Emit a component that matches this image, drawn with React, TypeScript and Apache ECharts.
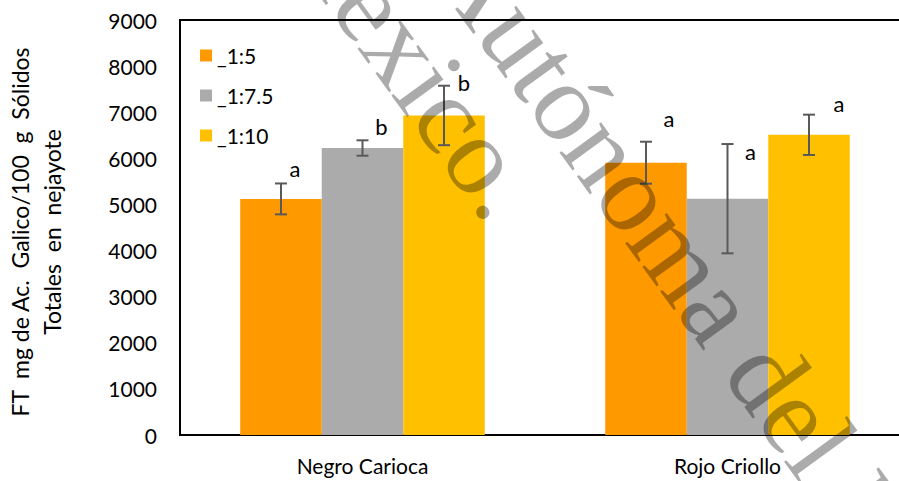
import React, { useEffect, useRef } from "react";
import * as echarts from "echarts";

// Phenolic content by variety and dilution ratio
const categories = ["Negro Carioca", "Rojo Criollo"];
const seriesNames = ["_1:5", "_1:7.5", "_1:10"];
const seriesColors = ["#FF9900", "#ABABAB", "#FFC000"];

const ratio1to5 = [5120, 5905];
const ratio1to7_5 = [6224, 5125];
const ratio1to10 = [6930, 6510];

const sd1to5 = [335, 455];
const sd1to7_5 = [167, 1185];
const sd1to10 = [645, 437];

// Tukey grouping letters
const letters1to5 = ["a", "a"];
const letters1to7_5 = ["b", "a"];
const letters1to10 = ["b", "a"];

const yMin = 0;
const yMax = 9000;
const yInterval = 1000;

const yTitle = "FT  mg de Ac.  Galico/100  g  Sólidos\nTotales  en  nejayote";

// pixel offset of each letter from the top of its error bar: [series][category]
const letterOffsets = [
  [[14, -15], [23, -23]],
  [[19, -14], [23, 7]],
  [[20, -3], [30, -11]],
];

const FONT = "Lato, 'Open Sans', sans-serif";
const BAR_CATEGORY_GAP = 0.33;

export default function App() {
  const ref = useRef<HTMLDivElement | null>(null);

  useEffect(() => {
    if (!ref.current) return;
    const chart = echarts.init(ref.current, undefined, { renderer: "svg" });

    const means = [ratio1to5, ratio1to7_5, ratio1to10];
    const sds = [sd1to5, sd1to7_5, sd1to10];
    const letters = [letters1to5, letters1to7_5, letters1to10];

    const errData: number[][] = [];
    const errLetters: string[] = [];
    for (let s = 0; s < means.length; s++) {
      for (let c = 0; c < categories.length; c++) {
        errData.push([c, s, means[s][c], sds[s][c]]);
        errLetters.push(letters[s][c]);
      }
    }

    const option: any = {
      animation: false,
      backgroundColor: "#fff",
      grid: {
        left: 180,
        top: 20,
        bottom: 46,
        right: -11,
        containLabel: false,
        outerBoundsMode: "none",
        show: true,
        borderColor: "#000",
        borderWidth: 2,
      },
      legend: {
        data: seriesNames,
        orient: "vertical",
        left: 200,
        top: 45,
        padding: 0,
        icon: "rect",
        itemWidth: 12,
        itemHeight: 12,
        itemGap: 19,
        itemTextGap: 5,
        textStyle: { fontSize: 21, lineHeight: 21, color: "#000", fontFamily: FONT },
      },
      xAxis: {
        type: "category",
        data: categories,
        axisTick: { show: false },
        axisLine: { lineStyle: { color: "#000", width: 2 } },
        axisLabel: { fontSize: 21, color: "#000", margin: 20, fontFamily: FONT },
        splitLine: { show: false },
      },
      yAxis: {
        type: "value",
        min: yMin,
        max: yMax,
        interval: yInterval,
        axisLine: { show: false },
        axisTick: { show: false },
        splitLine: { show: false },
        axisLabel: {
          fontSize: 21,
          color: "#000",
          margin: 23,
          fontFamily: FONT,
          formatter: (v: number) => String(v),
        },
        name: yTitle,
        nameLocation: "middle",
        nameRotate: 90,
        nameGap: 112,
        nameMoveOverlap: false,
        nameTextStyle: {
          fontSize: 23,
          lineHeight: 32,
          color: "#000",
          fontFamily: FONT,
          padding: [0, 9, 0, 0],
        },
      },
      series: [
        ...seriesNames.map((name, i) => ({
          name,
          type: "bar",
          data: means[i],
          barGap: "0%",
          barCategoryGap: `${BAR_CATEGORY_GAP * 100}%`,
          itemStyle: { color: seriesColors[i] },
          z: 2,
        })),
        {
          type: "custom",
          name: "errors",
          data: errData,
          encode: { x: 0, y: 2 },
          z: 5,
          silent: true,
          renderItem: (params: any, api: any) => {
            const c = api.value(0);
            const s = api.value(1);
            const mean = api.value(2);
            const sd = api.value(3);
            const band = api.size([1, 0])[0];
            const group = band * (1 - BAR_CATEGORY_GAP);
            const bw = group / seriesNames.length;
            const center = api.coord([c, mean]);
            const x = center[0] - group / 2 + bw * (s + 0.5);
            const yTop = api.coord([c, mean + sd])[1];
            const yBot = api.coord([c, mean - sd])[1];
            const cap = 6;
            const lineStyle = { stroke: "#595959", lineWidth: 2 };
            const off = letterOffsets[s][c];
            return {
              type: "group",
              children: [
                { type: "line", shape: { x1: x, y1: yTop, x2: x, y2: yBot }, style: lineStyle },
                { type: "line", shape: { x1: x - cap, y1: yTop, x2: x + cap, y2: yTop }, style: lineStyle },
                { type: "line", shape: { x1: x - cap, y1: yBot, x2: x + cap, y2: yBot }, style: lineStyle },
                {
                  type: "text",
                  x: x + off[0],
                  y: yTop + off[1],
                  style: {
                    text: errLetters[params.dataIndex],
                    fontSize: 22,
                    fontFamily: FONT,
                    fill: "#000",
                    align: "center",
                    verticalAlign: "middle",
                  },
                },
              ],
            };
          },
        },
      ],
      graphic: [
        {
          type: "text",
          x: 457,
          y: -53,
          rotation: (-54 * Math.PI) / 180,
          silent: true,
          z: 100,
          style: {
            text: "Autónoma del Estado",
            font: "112px 'Liberation Serif', serif",
            fill: "rgba(0,0,0,0.33)",
            align: "left",
            verticalAlign: "middle",
          },
        },
        {
          type: "text",
          x: 300,
          y: -95,
          rotation: (-54 * Math.PI) / 180,
          silent: true,
          z: 100,
          style: {
            text: "México.",
            font: "112px 'Liberation Serif', serif",
            fill: "rgba(0,0,0,0.33)",
            align: "left",
            verticalAlign: "middle",
          },
        },
      ],
    };

    chart.setOption(option);
    return () => chart.dispose();
  }, []);

  return (
    <div
      ref={ref}
      style={{ position: "fixed", left: 0, top: 0, width: 899, height: 481 }}
    />
  );
}
